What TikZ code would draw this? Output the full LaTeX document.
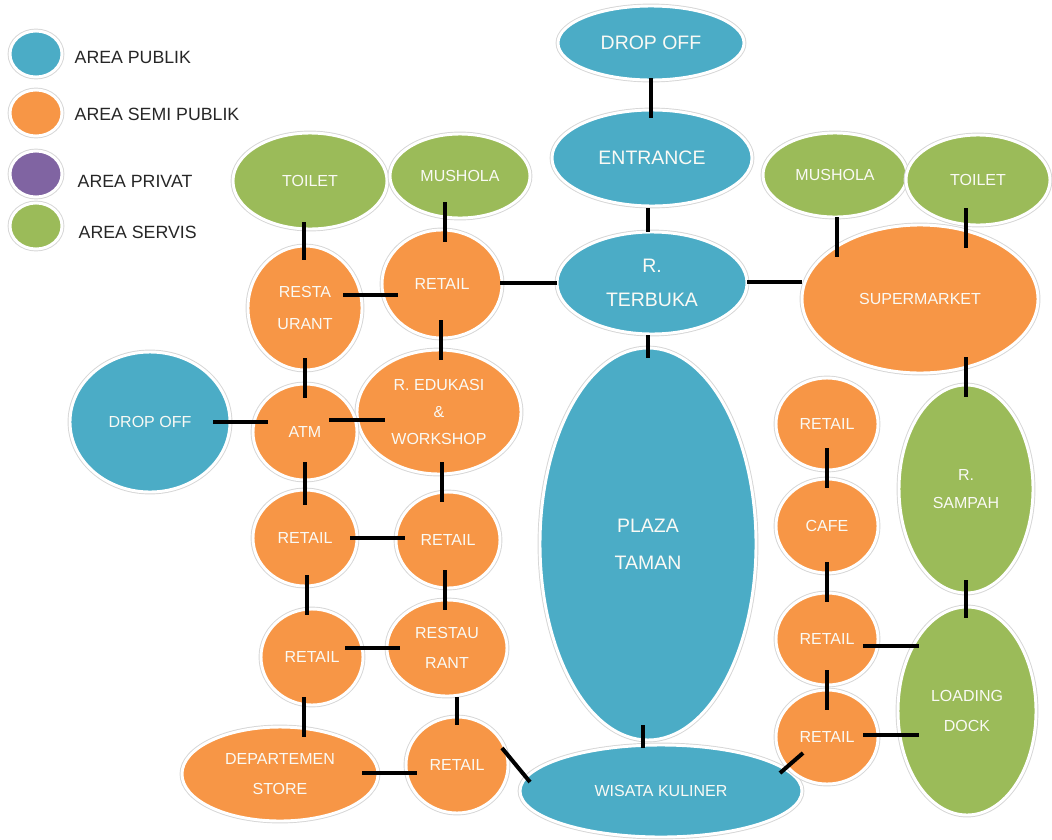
\documentclass[tikz,border=0pt]{standalone}
\usepackage{fontspec}
\setmainfont{Liberation Sans}
\usetikzlibrary{shapes.geometric,calc}

\definecolor{publik}{HTML}{4BACC6}
\definecolor{semi}{HTML}{F79646}
\definecolor{privat}{HTML}{8064A2}
\definecolor{servis}{HTML}{9BBB59}
\definecolor{legendtext}{HTML}{262626}
\definecolor{labeltext}{HTML}{FAFAF5}

\tikzset{
  % coloured zone bubble: white rim with a faint grey halo
  zone/.style={ellipse, inner sep=0pt, outer sep=0pt, text=labeltext, align=center,
    draw=white, line width=2.2pt,
    preaction={draw=black!16, line width=3.6pt}},
  % half axes given in drawing units
  radii/.style 2 args={minimum width={1.5*#1 pt}, minimum height={1.5*#2 pt}},
  smalltxt/.style={font=\fontsize{12}{22}\selectfont},
  bigtxt/.style={font=\fontsize{14.6}{26}\selectfont},
  pub/.style={zone, fill=publik},
  sem/.style={zone, fill=semi},
  prv/.style={zone, fill=privat},
  srv/.style={zone, fill=servis},
  legendlabel/.style={anchor=west, text=legendtext, font=\fontsize{13.3}{16}\selectfont},
  link/.style={draw=black, line width=3pt}
}

\begin{document}
\begin{tikzpicture}[x=0.75pt, y=-0.75pt]
\useasboundingbox (0,0) rectangle (1052,839);

% legend
\node[pub, radii={26}{23}] (legPub) at (36,54) {};
\node[sem, radii={26}{23}] (legSem) at (36,113) {};
\node[prv, radii={26}{23}] (legPrv) at (36,174) {};
\node[srv, radii={26}{23}] (legSrv) at (36,226) {};
\node[legendlabel] (legPubT) at (70,57.5) {AREA PUBLIK};
\node[legendlabel] (legSemT) at (70,114) {AREA SEMI PUBLIK};
\node[legendlabel] (legPrvT) at (73,181) {AREA PRIVAT};
\node[legendlabel] (legSrvT) at (74,232.5) {AREA SERVIS};

% central public spine
\node[pub, bigtxt, radii={93}{37}] (dropTop) at (651,43) {DROP OFF};
\node[pub, bigtxt, radii={100}{48}] (entrance) at (652,158) {ENTRANCE};
\node[pub, radii={95}{51}, font=\fontsize{14.6}{26}\selectfont] (terbuka) at (652,283) {R.\\TERBUKA};
\node[pub, radii={108}{196}, font=\fontsize{14.6}{28}\selectfont] (plaza) at (648,544) {PLAZA\\TAMAN};
\node[pub, smalltxt, radii={141}{46}] (wisata) at (661,791) {WISATA KULINER};

% west wing
\node[srv, smalltxt, radii={77}{48}] (toiletL) at (310,181) {TOILET};
\node[srv, smalltxt, radii={70}{42}] (musholaL) at (460,176) {MUSHOLA};
\node[sem, radii={57}{62}, font=\fontsize{12}{24}\selectfont] (restoL) at (305,308) {RESTA\\URANT};
\node[sem, smalltxt, radii={60}{54}] (retailA) at (442,284) {RETAIL};
\node[sem, radii={82}{62}, font=\fontsize{12}{20.5}\selectfont] (edukasi) at (439,412) {R. EDUKASI\\\&\\WORKSHOP};
\node[sem, smalltxt, radii={52}{48}] (atm) at (305,432) {ATM};
\node[pub, smalltxt, radii={80}{70}] (dropL) at (150,422) {DROP OFF};
\node[sem, smalltxt, radii={52}{48}] (retailB) at (305,538) {RETAIL};
\node[sem, smalltxt, radii={52}{48}] (retailC) at (448,540) {RETAIL};
\node[sem, smalltxt, radii={51}{48}] (retailD) at (312,657) {RETAIL};
\node[sem, radii={60}{48}, font=\fontsize{12}{22}\selectfont] (restoR) at (447,648) {RESTAU\\RANT};
\node[sem, radii={98}{47}, font=\fontsize{12}{22}\selectfont] (dept) at (280,774) {DEPARTEMEN\\STORE};
\node[sem, smalltxt, radii={51}{48}] (retailE) at (457,765) {RETAIL};

% east wing
\node[srv, smalltxt, radii={72}{42}] (musholaR) at (835,175) {MUSHOLA};
\node[srv, smalltxt, radii={72}{45}] (toiletR) at (978,180) {TOILET};
\node[sem, smalltxt, radii={118}{74}] (supermarket) at (920,299) {SUPERMARKET};
\node[sem, smalltxt, radii={51}{46}] (retailF) at (827,424) {RETAIL};
\node[sem, smalltxt, radii={51}{47}] (cafe) at (827,526) {CAFE};
\node[sem, smalltxt, radii={51}{46}] (retailG) at (827,639) {RETAIL};
\node[sem, smalltxt, radii={51}{47}] (retailH) at (827,737) {RETAIL};
\node[srv, radii={67}{104}, font=\fontsize{12}{21}\selectfont] (sampah) at (966,489) {R.\\SAMPAH};
\node[srv, radii={69}{104}, font=\fontsize{12}{22}\selectfont] (loading) at (967,711) {LOADING\\DOCK};

% connections
\draw[link] ($(dropTop)+(0,35)$) -- ($(entrance)+(-1,-40)$);
\draw[link] ($(entrance)+(-4,50)$) -- ($(terbuka)+(-4,-51)$);
\draw[link] ($(terbuka)+(-4,52)$) -- ($(plaza)+(0,-186)$);
\draw[link] ($(plaza)+(-5,181)$) -- ($(wisata)+(-18,-43)$);

\draw[link] ($(toiletL)+(-6,41)$) -- ($(restoL)+(-1,-48)$);
\draw[link] ($(musholaL)+(-15,26)$) -- ($(retailA)+(3,-42)$);
\draw[link] ($(restoL)+(38,-13)$) -- ($(retailA)+(-44,11)$);
\draw[link] ($(retailA)+(58,-1)$) -- ($(terbuka)+(-95,0)$);
\draw[link] ($(terbuka)+(95,-1)$) -- ($(supermarket)+(-118,-17)$);
\draw[link] ($(retailA)+(-1,36)$) -- ($(edukasi)+(2,-52)$);
\draw[link] ($(restoL)+(0,50)$) -- ($(atm)+(0,-34)$);
\draw[link] ($(dropL)+(63,0)$) -- ($(atm)+(-37,-10)$);
\draw[link] ($(atm)+(24,-12)$) -- ($(edukasi)+(-54,8)$);
\draw[link] ($(atm)+(0,30)$) -- ($(retailB)+(0,-33)$);
\draw[link] ($(edukasi)+(3,50)$) -- ($(retailC)+(-6,-38)$);
\draw[link] ($(retailB)+(45,0)$) -- ($(retailC)+(-43,-2)$);
\draw[link] ($(retailB)+(2,37)$) -- ($(retailD)+(-5,-42)$);
\draw[link] ($(retailC)+(-3,30)$) -- ($(restoR)+(-2,-38)$);
\draw[link] ($(retailD)+(33,-9)$) -- ($(restoR)+(-47,0)$);
\draw[link] ($(retailD)+(-8,40)$) -- ($(dept)+(24,-37)$);
\draw[link] ($(restoR)+(10,49)$) -- ($(retailE)+(0,-40)$);
\draw[link] ($(dept)+(82,-1)$) -- ($(retailE)+(-40,8)$);
\draw[link] ($(retailE)+(45,-17)$) -- ($(wisata)+(-131,-9)$);
\draw[link] ($(wisata)+(119,-18)$) -- ($(retailH)+(-24,16)$);

\draw[link] ($(musholaR)+(2,42)$) -- ($(supermarket)+(-83,-42)$);
\draw[link] ($(toiletR)+(-12,28)$) -- ($(supermarket)+(46,-51)$);
\draw[link] ($(supermarket)+(46,58)$) -- ($(sampah)+(0,-92)$);
\draw[link] ($(retailF)+(0,24)$) -- ($(cafe)+(0,-38)$);
\draw[link] ($(cafe)+(0,36)$) -- ($(retailG)+(0,-37)$);
\draw[link] ($(retailG)+(0,31)$) -- ($(retailH)+(0,-27)$);
\draw[link] ($(retailG)+(36,7)$) -- ($(loading)+(-48,-65)$);
\draw[link] ($(retailH)+(36,-2)$) -- ($(loading)+(-48,24)$);
\draw[link] ($(sampah)+(0,91)$) -- ($(loading)+(-1,-93)$);
\end{tikzpicture}
\end{document}
